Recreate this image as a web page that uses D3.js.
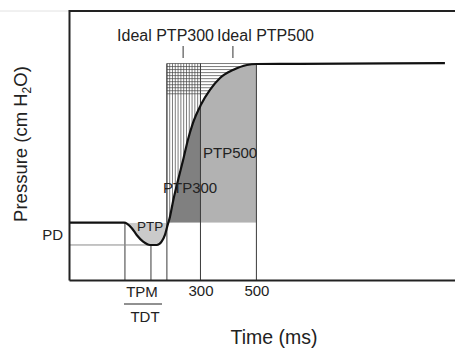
<!DOCTYPE html>
<html>
<head>
<meta charset="utf-8">
<script src="https://cdn.jsdelivr.net/npm/d3@7"></script>
<style>
  body { margin: 0; background: #fff; }
  svg { display: block; font-family: "Liberation Sans", Arial, sans-serif; }
</style>
</head>
<body>
<svg id="chart" width="455" height="348"></svg>
<script>
// pressure trace (schematic), time in ms, pressure in cm H2O relative to PD
const timeMs = [-170, 27, 54, 72, 95, 120, 144, 161, 173, 181, 191, 203, 220, 238, 255, 273, 301, 334, 370, 416, 466, 502, 656, 1174];
const pressure = [0, 0, -0.33, -0.77, -1.19, -1.40, -1.40, -1.19, -0.77, -0.25, 0.38, 1.43, 2.68, 3.94, 5.20, 6.26, 7.39, 8.34, 9.09, 9.59, 9.91, 9.97, 9.98, 10.03];

// reference instants
const tpmStart = 30;
const tpmMin = 123;
const onset = 180;
const xTickValues = [300, 500];
const xTickLabels = ['300', '500'];

// pressure levels
const pdLevel = 0;
const pdMin = -1.4;
const plateau = 10;
const hatchLow = 8.0;

// ideal markers
const idealTimes = [238, 416];
const idealLabels = ['Ideal PTP300', 'Ideal PTP500'];

const pts = timeMs.map((t, i) => ({ t: t, p: pressure[i] }));

const svg = d3.select('#chart');
const x = d3.scaleLinear().domain([-170, 1210]).range([69, 455]);
const y = d3.scaleLinear().domain([-3.6, 13.3]).range([280, 11]);

const defs = svg.append('defs');

// clip regions for the shaded areas
function addRectClip(id, x0, x1, y0, y1) {
    defs.append('clipPath').attr('id', id)
        .append('rect')
        .attr('x', x0).attr('y', y0)
        .attr('width', x1 - x0).attr('height', y1 - y0);
}
addRectClip('clip-ptp', x(tpmStart - 5), x(onset + 20), y(pdLevel), y.range()[0]);
addRectClip('clip-300', x(onset), x(300), 0, y(pdLevel));
addRectClip('clip-500', x(300), x(500), 0, y(pdLevel));

// region above the curve, used for the hatching
const aboveArea = d3.area()
    .x(d => x(d.t))
    .y0(0)
    .y1(d => y(d.p))
    .curve(d3.curveMonotoneX);
defs.append('clipPath').attr('id', 'clip-above')
    .append('path').attr('d', aboveArea(pts));

const fillArea = d3.area()
    .x(d => x(d.t))
    .y0(y(pdLevel))
    .y1(d => y(d.p))
    .curve(d3.curveMonotoneX);

svg.append('path').attr('d', fillArea(pts)).attr('fill', '#cacaca').attr('clip-path', 'url(#clip-ptp)');
svg.append('path').attr('d', fillArea(pts)).attr('fill', '#808080').attr('clip-path', 'url(#clip-300)');
svg.append('path').attr('d', fillArea(pts)).attr('fill', '#b2b2b2').attr('clip-path', 'url(#clip-500)');

// hatching for ideal PTP300 (vertical) and ideal PTP500 (horizontal)
const hatch = svg.append('g').attr('clip-path', 'url(#clip-above)')
    .attr('stroke', '#444').attr('stroke-width', 0.7);
hatch.selectAll('line.v')
    .data(d3.range(onset, 301, 10))
    .join('line').attr('class', 'v')
    .attr('x1', d => x(d)).attr('x2', d => x(d))
    .attr('y1', y(plateau)).attr('y2', y(pdLevel));
hatch.selectAll('line.h')
    .data(d3.range(plateau, hatchLow - 0.05, -0.19))
    .join('line').attr('class', 'h')
    .attr('x1', x(onset)).attr('x2', x(500))
    .attr('y1', d => y(d)).attr('y2', d => y(d));

// reference lines
const refs = svg.append('g').attr('stroke', '#3a3a3a').attr('stroke-width', 1);
refs.append('line').attr('x1', x(tpmStart)).attr('x2', x(tpmStart)).attr('y1', y(pdLevel)).attr('y2', y.range()[0]);
refs.append('line').attr('x1', x(tpmMin)).attr('x2', x(tpmMin)).attr('y1', y(pdMin)).attr('y2', y.range()[0]);
[onset, 300, 500].forEach(t => {
    refs.append('line').attr('x1', x(t)).attr('x2', x(t)).attr('y1', y(plateau)).attr('y2', y.range()[0]);
});
svg.append('line')
    .attr('x1', x.range()[0]).attr('x2', x(tpmMin))
    .attr('y1', y(pdMin)).attr('y2', y(pdMin))
    .attr('stroke', '#8a8a8a').attr('stroke-width', 1);

// ideal markers
svg.selectAll('line.ideal')
    .data(idealTimes)
    .join('line').attr('class', 'ideal')
    .attr('x1', d => x(d)).attr('x2', d => x(d))
    .attr('y1', 46).attr('y2', 58)
    .attr('stroke', '#333').attr('stroke-width', 1);
svg.append('text').attr('x', 214).attr('y', 41).attr('text-anchor', 'end')
    .attr('font-size', 16).attr('fill', '#222').text(idealLabels[0]);
svg.append('text').attr('x', 217).attr('y', 41).attr('text-anchor', 'start')
    .attr('font-size', 16).attr('fill', '#222').text(idealLabels[1]);

// pressure curve
const line = d3.line()
    .x(d => x(d.t))
    .y(d => y(d.p))
    .curve(d3.curveMonotoneX);
svg.append('path').attr('d', line(pts))
    .attr('fill', 'none').attr('stroke', '#111').attr('stroke-width', 2.2);

// axes
const xAxis = svg.append('g').attr('transform', `translate(0,${y.range()[0]})`)
    .call(d3.axisBottom(x).tickValues(xTickValues).tickSize(0).tickPadding(5)
        .tickFormat((d, i) => xTickLabels[i]))
    .attr('font-size', 15)
    .attr('font-family', '"Liberation Sans", Arial, sans-serif');
xAxis.select('.domain').attr('stroke', '#222').attr('stroke-width', 2);
xAxis.selectAll('text').attr('fill', '#222');

const yAxis = svg.append('g').attr('transform', `translate(${x.range()[0]},0)`)
    .call(d3.axisLeft(y).tickValues([]).tickSizeOuter(0));
yAxis.select('.domain').attr('stroke', '#222').attr('stroke-width', 2);

svg.append('line').attr('x1', x.range()[0] - 1).attr('x2', 455).attr('y1', 11).attr('y2', 11)
    .attr('stroke', '#222').attr('stroke-width', 2);
svg.append('line').attr('x1', 0).attr('x2', x.range()[0]).attr('y1', 11).attr('y2', 11)
    .attr('stroke', '#e2e2e2').attr('stroke-width', 1);

// labels
const lab = (txt, lx, ly, size, anchor) => svg.append('text')
    .attr('x', lx).attr('y', ly).attr('font-size', size)
    .attr('text-anchor', anchor || 'start').attr('fill', '#222').text(txt);

lab('PTP500', 203, 158, 15);
lab('PTP300', 163, 193, 15);
lab('PTP', 137, 231, 13.5);
lab('PD', 63, 240, 15, 'end');
lab('TPM', 142, 297, 15, 'middle');
lab('TDT', 145, 322, 15, 'middle');
svg.append('line').attr('x1', 124).attr('x2', 162).attr('y1', 304).attr('y2', 304)
    .attr('stroke', '#222').attr('stroke-width', 1);
lab('Time (ms)', 274, 344, 19.5, 'middle');

const yt = svg.append('text')
    .attr('transform', 'translate(27,144) rotate(-90)')
    .attr('text-anchor', 'middle').attr('font-size', 18.5).attr('fill', '#222');
yt.append('tspan').text('Pressure (cm H');
yt.append('tspan').attr('font-size', 12).attr('dy', 4).text('2');
yt.append('tspan').attr('dy', -4).text('O)');
</script>
</body>
</html>
